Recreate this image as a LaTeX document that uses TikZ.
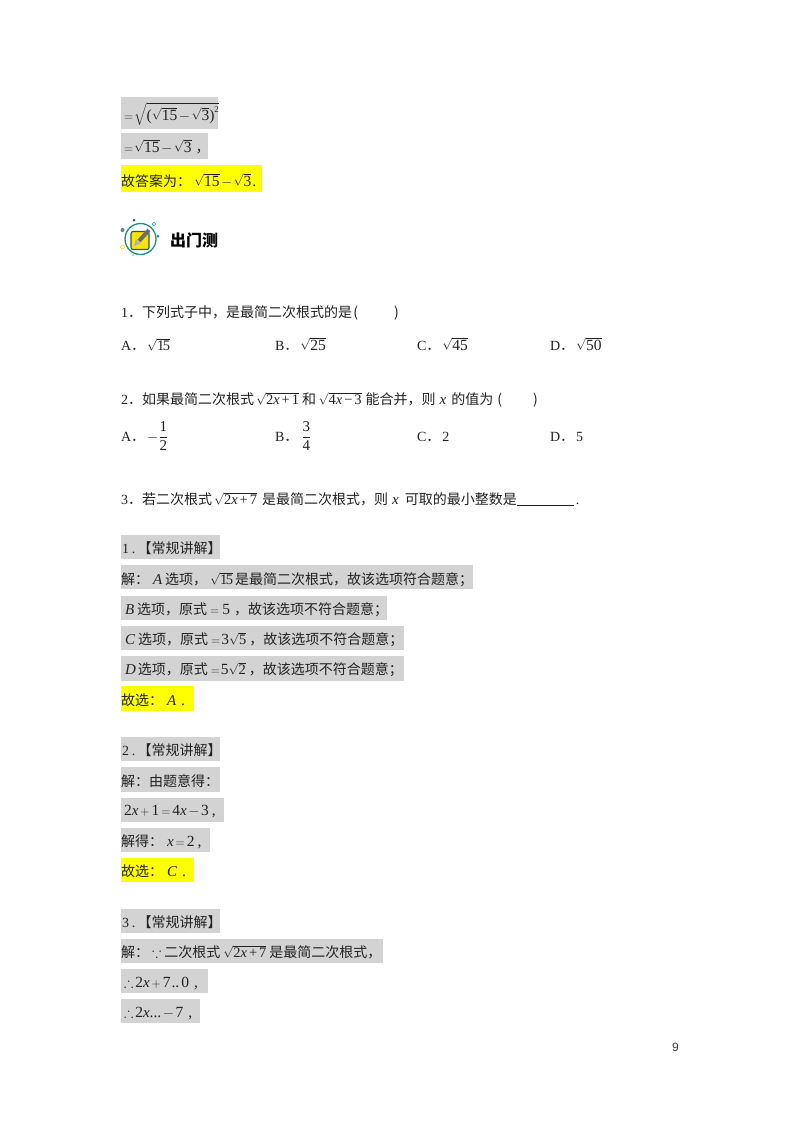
\documentclass[tikz,border=0pt]{standalone}
\usepackage{amsmath,amssymb}
\usepackage{fontspec}
\setmainfont{Liberation Serif}
\newfontfamily\cjk{Noto Sans CJK SC}
\newfontfamily\pagefont{Liberation Sans}
\newcommand{\zh}[1]{{\cjk #1}}
\newcommand{\dg}[1]{\hbox{\fontsize{15.5}{16}\selectfont #1}}
\newcommand{\rt}[1]{{\fontsize{12.5}{14}\selectfont$\sqrt{\dg{#1}}$}}
\newcommand{\rs}[1]{{\fontsize{12.5}{14}\selectfont$\sqrt{\hbox{\fontsize{14.5}{15}\selectfont #1}}$}}
\newcommand{\vi}[1]{{\fontsize{15}{15}\selectfont\textit{#1}}}
\newcommand{\mn}{\hbox{\hspace{1.5pt}\fontsize{13.5}{14}\selectfont$-$\hspace{1.5pt}}}
\newcommand{\eqs}{{\fontsize{12.5}{14}\selectfont${=}$}}
\newcommand{\pls}{{\fontsize{12.5}{14}\selectfont${+}$}}
\definecolor{ink}{HTML}{222222}
\definecolor{shade}{HTML}{D3D3D3}
\definecolor{hilite}{HTML}{FFFF00}
\definecolor{teal1}{HTML}{1F8F7F}
\tikzset{
  txt/.style={anchor=base west,inner sep=0pt,outer sep=0pt,text=ink,font=\fontsize{14}{16}\selectfont},
  graybox/.style={fill=shade,draw=none},
  yellowbox/.style={fill=hilite,draw=none},
  dot/.style={circle,inner sep=0pt,minimum size=#1}
}
\begin{document}
\begin{tikzpicture}[x=1pt,y=-1pt]
\useasboundingbox (0,0) rectangle (800,1132);
\fill[white] (0,0) rectangle (800,1132);
% background bars
\path[graybox] (121,97) rectangle (218,129);
\path[graybox] (121,133) rectangle (208,159);
\path[yellowbox] (121,165) rectangle (262,192);
\path[graybox] (121,535) rectangle (220,559);
\path[graybox] (121,565) rectangle (473,589);
\path[graybox] (121,596) rectangle (387,620);
\path[graybox] (121,626) rectangle (404,650);
\path[graybox] (121,656) rectangle (404,681);
\path[yellowbox] (121,686) rectangle (193.5,711);
\path[graybox] (121,737) rectangle (220,761);
\path[graybox] (121,767) rectangle (220,792);
\path[graybox] (121,798) rectangle (224,822);
\path[graybox] (121,828) rectangle (210,852);
\path[yellowbox] (121,858) rectangle (193.5,882);
\path[graybox] (121,909) rectangle (220,933);
\path[graybox] (121,939) rectangle (383,963);
\path[graybox] (121,969) rectangle (208,993);
\path[graybox] (121,999) rectangle (200,1023);
% top lines
\node[txt] (l1) at (124,120) {\eqs\hspace{1pt}{\fontsize{12.5}{14}\selectfont$\sqrt{\dg{(}\sqrt{\dg{15}}\mn\sqrt{\dg{3}}\dg{)}^{\hbox{\fontsize{9}{9}\selectfont 2}}}$}};
\node[txt] (l2) at (124,152) {\eqs\hspace{1pt}\rt{15}\mn\rt{3}\hspace{4pt}\zh{，}};
\node[txt] (l3) at (121,186) {\zh{故答案为：}\hspace{3pt}\rt{15}\mn\rt{3}\hspace{1pt}\dg{.}};
% icon
\node[circle,draw=teal1,line width=1.3pt,minimum size=31pt,inner sep=0pt] (ring) at (140.5,239) {};
\node[rounded corners=2pt,fill=yellow!85!orange,draw=teal1!70!black,line width=1.1pt,minimum size=18pt,inner sep=0pt] (pad) at (140,240.5) {};
\draw[line width=4pt,color=gray!85!black] (139,241) -- (149,230);
\fill[gray!60!white] (133.5,246.5) -- (136,239.5) -- (140.5,243.5) -- cycle;
\node[dot=3pt,fill=teal1!70!black] (d1) at (134,220) {};
\node[dot=4pt,fill=gray!80!teal] (d2) at (122.5,230) {};
\node[dot=3pt,fill=teal1] (d3) at (158,236) {};
\node[dot=3.5pt,draw=blue!40!cyan,fill=white,line width=.7pt] (d4) at (154,224) {};
\node[dot=4pt,draw=yellow!70!orange,fill=white,line width=.6pt] (d5) at (122.5,247) {};
\node[dot=1.5pt,fill=teal1!50!cyan] (d6) at (133,255) {};
\node[txt,font=\fontsize{16}{18}\selectfont\cjk\bfseries,text=black] (title) at (170,246) {出门测};
% questions
\node[txt] (q1) at (121,317) {1\zh{．下列式子中，是最简二次根式的是}\hspace{1.5pt}\zh{(}\hspace{36pt}\zh{)}};
\node[txt] (q1a) at (121,350) {A\zh{．}\hspace{2pt}\rs{1\kern-1.5pt 5}};
\node[txt] (q1b) at (275,350) {B\zh{．}\hspace{2pt}\rt{25}};
\node[txt] (q1c) at (417,350) {C\zh{．}\hspace{2pt}\rt{45}};
\node[txt] (q1d) at (550,350) {D\zh{．}\hspace{2pt}\rt{50}};
\node[txt] (q2) at (121,404) {2\zh{．如果最简二次根式}\hspace{2pt}\rs{2\textit{x}\kern2pt+\kern2pt 1}\hspace{3pt}\zh{和}\hspace{2.5pt}\rs{4\textit{x}\kern2pt−\kern2pt 3}\hspace{4pt}\zh{能合并，则}\hspace{4pt}\vi{x}\hspace{5pt}\zh{的值为}\hspace{4pt}\zh{(}\hspace{31pt}\zh{)}};
\node[txt] (q2a) at (121,441) {A\zh{．}\hspace{2pt}$-\dfrac{\hbox{\fontsize{15}{15}\selectfont 1}}{\hbox{\fontsize{15}{15}\selectfont 2}}$};
\node[txt] (q2b) at (275,441) {B\zh{．}\hspace{3pt}$\dfrac{\hbox{\fontsize{15}{15}\selectfont 3}}{\hbox{\fontsize{15}{15}\selectfont 4}}$};
\node[txt] (q2c) at (417,441) {C\zh{．}\hspace{2pt}2};
\node[txt] (q2d) at (550,441) {D\zh{．}\hspace{2pt}5};
\node[txt] (q3) at (121,504) {3\zh{．若二次根式}\hspace{2pt}\rs{2\textit{x}\kern2pt+\kern2pt 7}\hspace{5pt}\zh{是最简二次根式，则}\hspace{4pt}\vi{x}\hspace{6pt}\zh{可取的最小整数是}\rule[-1.5pt]{57pt}{.6pt}\hspace{2pt}.};
% answers
\node[txt] (a1) at (122,553) {1\hspace{3pt}.\hspace{2pt}\zh{【常规讲解】}};
\node[txt] (a1b) at (121,584) {\zh{解：}\hspace{4pt}\vi{A}\hspace{3pt}\zh{选项，}\hspace{3pt}\rs{1\kern-1.5pt 5}\hspace{2pt}\zh{是最简二次根式，故该选项符合题意；}};
\node[txt] (a1c) at (125,614) {\vi{B}\hspace{3pt}\zh{选项，原式}\hspace{3pt}\eqs\hspace{3pt}\dg{5}\hspace{4pt}\zh{，故该选项不符合题意；}};
\node[txt] (a1d) at (125,644) {\vi{C}\hspace{3pt}\zh{选项，原式}\hspace{3pt}\eqs\hspace{1pt}\dg{3}\rs{5}\hspace{3pt}\zh{，故该选项不符合题意；}};
\node[txt] (a1e) at (125,674) {\vi{D}\hspace{2pt}\zh{选项，原式}\hspace{3pt}\eqs\hspace{1pt}\dg{5}\rs{2}\hspace{3pt}\zh{，故该选项不符合题意；}};
\node[txt] (a1f) at (121,705) {\zh{故选：}\hspace{4pt}\vi{A}\hspace{5pt}\dg{.}};
\node[txt] (a2) at (122,755) {2\hspace{3pt}.\hspace{2pt}\zh{【常规讲解】}};
\node[txt] (a2b) at (121,786) {\zh{解：由题意得：}};
\node[txt] (a2c) at (124,815) {\dg{2}\vi{x}\hspace{2pt}\pls\hspace{2pt}\dg{1}\hspace{2pt}\eqs\hspace{2pt}\dg{4}\vi{x}\mn\dg{3}\hspace{3pt}\dg{,}};
\node[txt] (a2d) at (121,846) {\zh{解得：}\hspace{4pt}\vi{x}\hspace{2pt}\eqs\hspace{2pt}\dg{2}\hspace{3pt}\dg{,}};
\node[txt] (a2e) at (121,876) {\zh{故选：}\hspace{4pt}\vi{C}\hspace{5pt}\dg{.}};
\node[txt] (a3) at (122,927) {3\hspace{3pt}.\hspace{2pt}\zh{【常规讲解】}};
\node[txt] (a3b) at (121,957) {\zh{解：}\hspace{3pt}$\because$\hspace{3pt}\zh{二次根式}\hspace{3pt}\rs{2\textit{x}\kern2pt+\kern2pt 7}\hspace{3pt}\zh{是最简二次根式，}};
\node[txt] (a3c) at (124,987) {$\therefore$\hspace{2pt}\dg{2}\vi{x}\hspace{2pt}\pls\hspace{2pt}\dg{7\kern1pt..\kern2pt 0}\hspace{5pt}\dg{,}};
\node[txt] (a3d) at (124,1017) {$\therefore$\hspace{2pt}\dg{2}\vi{x}\dg{...}\mn\dg{7}\hspace{5pt}\dg{,}};
\node[txt,font=\fontsize{12}{14}\selectfont\pagefont,text=black!75] (pg) at (672,1051) {9};
\end{tikzpicture}
\end{document}
